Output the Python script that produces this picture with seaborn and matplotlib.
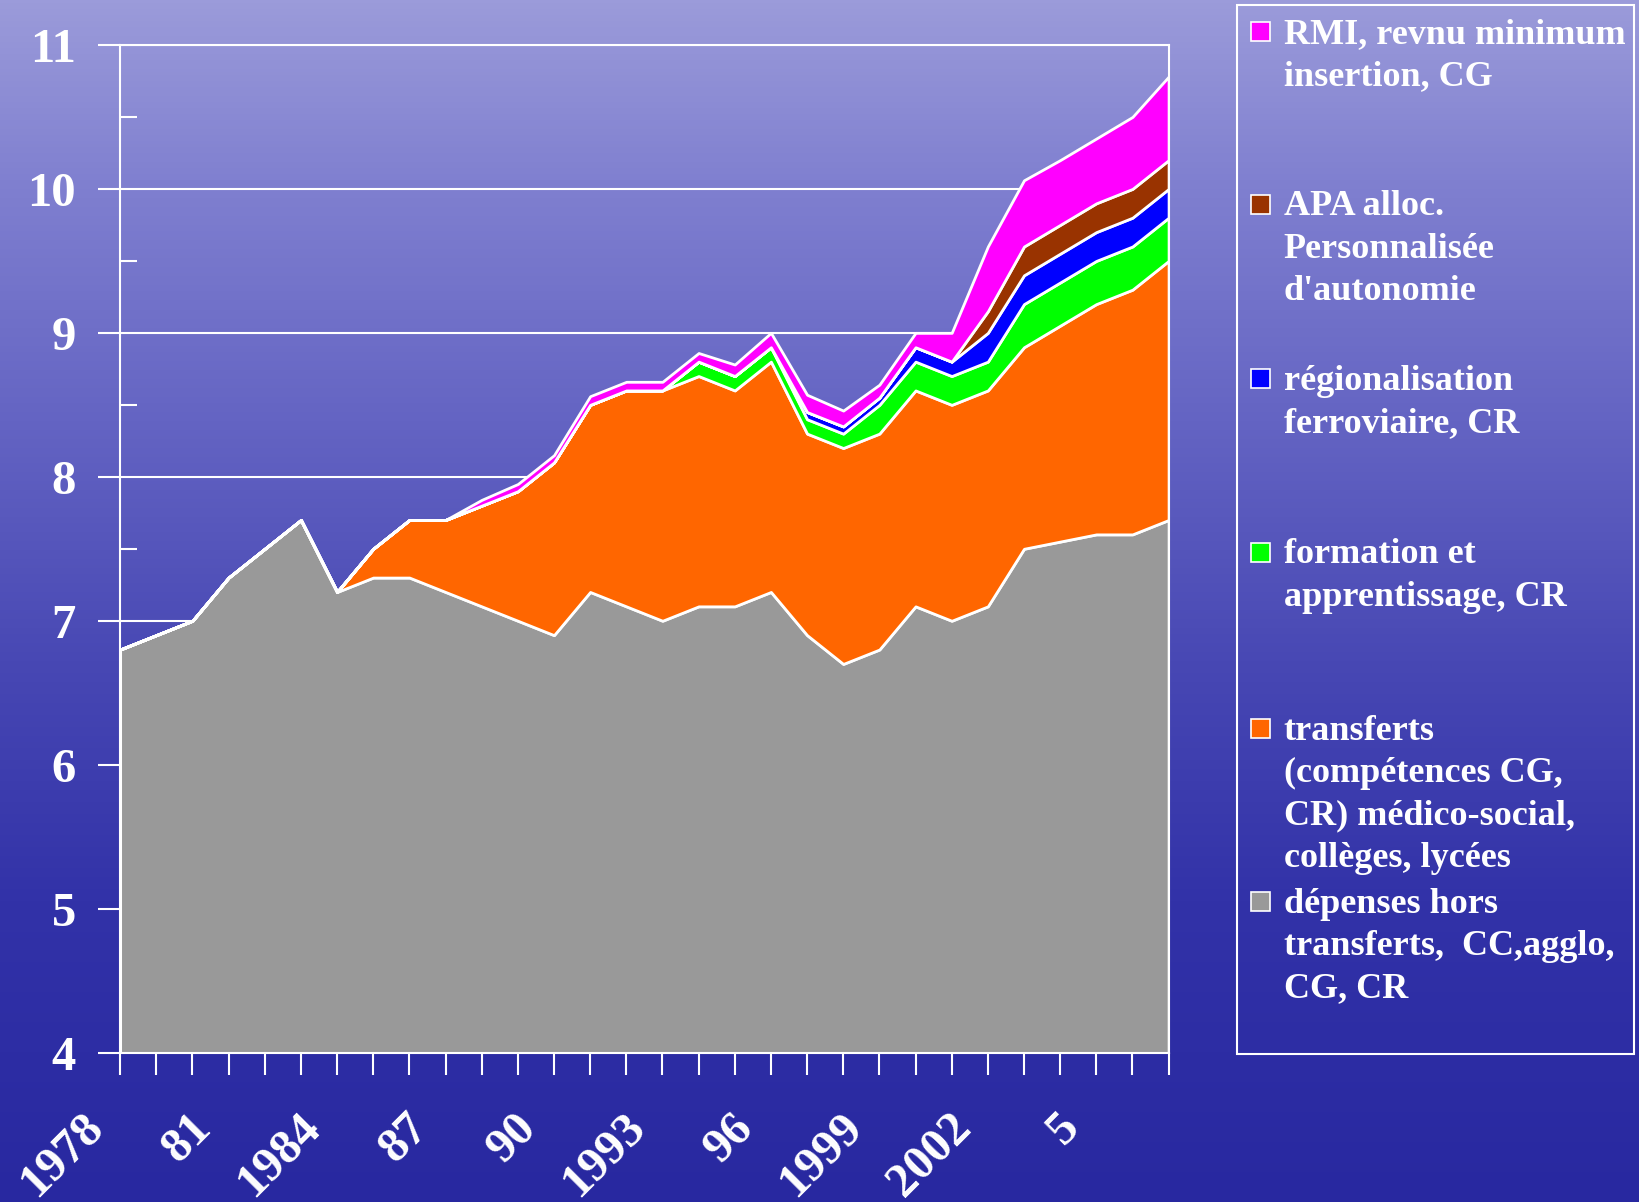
import numpy as np
import matplotlib
matplotlib.use('Agg')
import matplotlib.pyplot as plt
import matplotlib.transforms as mtransforms
import seaborn as sns
from matplotlib.patches import Rectangle
from matplotlib.ticker import MultipleLocator

# data (milliards, stacked)
years = list(range(1978, 2008))
hors_transferts = [6.8, 6.9, 7.0, 7.3, 7.5, 7.7, 7.2, 7.3, 7.3, 7.2,
                   7.1, 7.0, 6.9, 7.2, 7.1, 7.0, 7.1, 7.1, 7.2, 6.9,
                   6.7, 6.8, 7.1, 7.0, 7.1, 7.5, 7.55, 7.6, 7.6, 7.7]
transferts = [0, 0, 0, 0, 0, 0, 0, 0.2, 0.4, 0.5,
              0.7, 0.9, 1.2, 1.3, 1.5, 1.6, 1.6, 1.5, 1.6, 1.4,
              1.5, 1.5, 1.5, 1.5, 1.5, 1.4, 1.5, 1.6, 1.7, 1.8]
formation = [0] * 16 + [0.1, 0.1, 0.1, 0.1, 0.1, 0.2, 0.2, 0.2, 0.2,
                        0.3, 0.3, 0.3, 0.3, 0.3]
ferroviaire = [0] * 19 + [0.05, 0.05, 0.05, 0.1, 0.1, 0.2, 0.2, 0.2,
                          0.2, 0.2, 0.2]
apa = [0] * 24 + [0.15, 0.2, 0.2, 0.2, 0.2, 0.2]
rmi = [0] * 10 + [0.04, 0.05, 0.05, 0.06, 0.06, 0.06, 0.06, 0.08, 0.1, 0.12,
                  0.11, 0.09, 0.1, 0.2, 0.45, 0.46, 0.45, 0.45, 0.5, 0.58]

tick_years = list(range(1978, 2006, 3))
tick_labels = ['1978', '81', '1984', '87', '90', '1993', '96', '1999', '2002', '5']

legend_labels = [
    "RMI, revnu minimum\ninsertion, CG",
    "APA alloc.\nPersonnalisée\nd'autonomie",
    "régionalisation\nferroviaire, CR",
    "formation et\napprentissage, CR",
    "transferts\n(compétences CG,\nCR) médico-social,\ncollèges, lycées",
    "dépenses hors\ntransferts,  CC,agglo,\nCG, CR",
]
legend_colors = ['#FF00FF', '#993300', '#0000FF', '#00FF00', '#FF6600', '#999999']

sns.set_theme(style='white')
plt.rcParams['font.family'] = ['Liberation Serif', 'DejaVu Serif']
plt.rcParams['font.weight'] = 'bold'

fig = plt.figure(figsize=(16.39, 12.02), dpi=100)

# blue "sea" background
bg = fig.add_axes([0, 0, 1, 1], zorder=-10)
pos = np.array([0.0, 0.15, 0.35, 0.55, 0.75, 1.0])
cols = np.array([[155, 155, 218], [128, 128, 208], [100, 100, 195],
                 [72, 72, 180], [50, 50, 168], [40, 40, 160]]) / 255
t = np.linspace(0, 1, 400)
grad = np.stack([np.interp(t, pos, cols[:, k]) for k in range(3)], axis=-1)
grad = np.repeat(grad[:, None, :], 2, axis=1)
bg.imshow(grad, aspect='auto', extent=[0, 1, 0, 1])
bg.axis('off')

ax = fig.add_axes([0.0733, 0.1243, 0.6397, 0.8383])
ax.patch.set_alpha(0)
ax.set_axisbelow(True)
ax.stackplot(years, hors_transferts, transferts, formation, ferroviaire, apa, rmi,
             colors=legend_colors[::-1], edgecolor='white', linewidth=2)

ax.set_xlim(1978, 2007)
ax.set_ylim(4, 11)
ax.grid(axis='y', color='white', linewidth=1.5)
for s in ax.spines.values():
    s.set_color('white')
    s.set_linewidth(1.5)

ax.yaxis.set_major_locator(MultipleLocator(1))
ax.yaxis.set_minor_locator(MultipleLocator(0.5))
ax.tick_params(axis='y', which='major', direction='out', length=16, width=1.5,
               color='white', labelcolor='white', labelsize=35, pad=16, left=True)
ax.tick_params(axis='y', which='minor', direction='in', length=12, width=1.5,
               color='white', left=True)

ax.set_xticks(tick_years)
ax.set_xticks(years, minor=True)
ax.set_xticklabels(tick_labels)
ax.tick_params(axis='x', which='both', direction='out', length=16, width=1.5,
               color='white', bottom=True)
ax.tick_params(axis='x', which='major', labelcolor='white', labelsize=35, pad=33)
shift = mtransforms.ScaledTranslation(-24 / 100, 0, fig.dpi_scale_trans)
for lab in ax.get_xticklabels():
    lab.set_rotation(45)
    lab.set_ha('right')
    lab.set_va('center')
    lab.set_rotation_mode('anchor')
    lab.set_transform(lab.get_transform() + shift)

# legend box drawn by hand to keep the slide's spacing
fig.patches.append(Rectangle((0.7545, 0.1235), 0.2423, 0.8722, transform=fig.transFigure,
                             fill=False, edgecolor='white', linewidth=1.5))
centers = [30, 195, 362, 528, 697, 862]
for lab, col, c in zip(legend_labels, legend_colors, centers):
    yc = 1 - c / 1150
    fig.patches.append(Rectangle((0.7634, yc - 0.0082), 0.0116, 0.0158,
                                 transform=fig.transFigure, facecolor=col,
                                 edgecolor='white', linewidth=1.2))
    fig.text(0.7832, yc + 0.0112, lab, color='white', fontsize=26, fontweight='bold',
             va='top', ha='left', linespacing=1.37)

fig.savefig('out.png', dpi=100)
